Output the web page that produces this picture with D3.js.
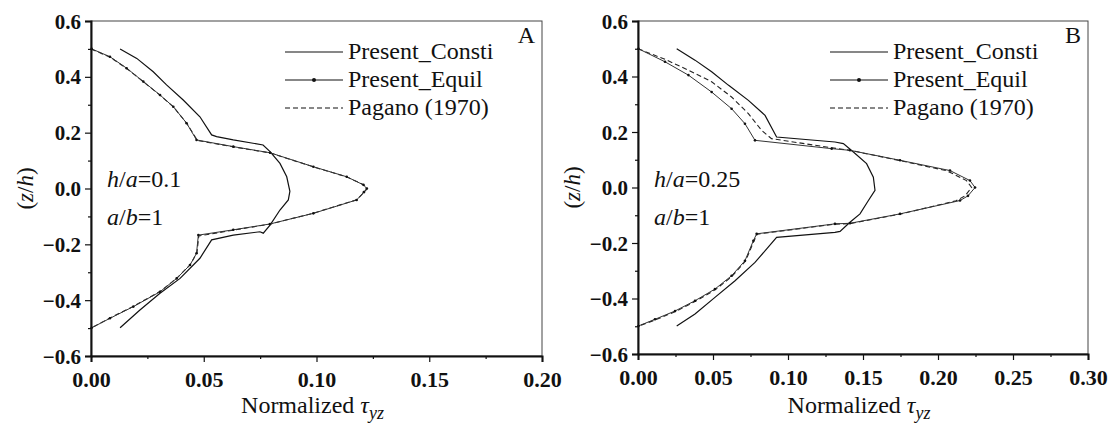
<!DOCTYPE html>
<html lang="en">
<head>
  <meta charset="UTF-8">
  <title>Normalized tau_yz through thickness</title>
  <script src="https://d3js.org/d3.v7.min.js"></script>
  <style>
    body { margin: 0; background: white; }
    svg { display: block; }
  </style>
</head>
<body>
  <div id="viz"></div>

  <script>
    // Panel A (h/a = 0.1), points are [tau_yz, z/h]
    const aConsti = [
      [0.0129, 0.500], [0.0203, 0.466], [0.0276, 0.418], [0.0335, 0.371], [0.0409, 0.317],
      [0.0483, 0.257], [0.0535, 0.192], [0.0557, 0.186], [0.0631, 0.174], [0.0763, 0.156],
      [0.0794, 0.132], [0.0838, 0.090], [0.0868, 0.042], [0.0882, -0.010], [0.0875, -0.041],
      [0.0838, -0.077], [0.0794, -0.131], [0.0764, -0.160], [0.0749, -0.155], [0.0631, -0.167],
      [0.0535, -0.184], [0.0483, -0.250], [0.0395, -0.322], [0.0306, -0.375], [0.0217, -0.435],
      [0.0129, -0.499]
    ];
    const aEquil = [
      [0.0003, 0.500], [0.0084, 0.472], [0.0158, 0.431], [0.0232, 0.383], [0.0306, 0.335],
      [0.0365, 0.293], [0.0424, 0.234], [0.0468, 0.174], [0.0631, 0.150], [0.0794, 0.128],
      [0.0986, 0.078], [0.1134, 0.042], [0.1208, 0.013], [0.1223, 0.000], [0.1210, -0.013],
      [0.1178, -0.041], [0.0986, -0.089], [0.0794, -0.127], [0.0631, -0.148], [0.0476, -0.167],
      [0.0468, -0.232], [0.0439, -0.274], [0.0380, -0.322], [0.0306, -0.370], [0.0188, -0.423],
      [0.0084, -0.465], [0.0003, -0.499]
    ];
    const aPagano = [
      [0.0000, 0.500], [0.0085, 0.470], [0.0160, 0.429], [0.0234, 0.381], [0.0308, 0.333],
      [0.0367, 0.291], [0.0426, 0.232], [0.0472, 0.172], [0.0633, 0.149], [0.0796, 0.127],
      [0.0988, 0.077], [0.1136, 0.041], [0.1212, 0.012], [0.1226, 0.000], [0.1212, -0.012],
      [0.1180, -0.040], [0.0988, -0.088], [0.0796, -0.127], [0.0633, -0.149], [0.0478, -0.170],
      [0.0470, -0.230], [0.0441, -0.272], [0.0382, -0.320], [0.0308, -0.368], [0.0190, -0.421],
      [0.0086, -0.463], [0.0000, -0.500]
    ];

    // Panel B (h/a = 0.25)
    const bConsti = [
      [0.0258, 0.500], [0.0380, 0.459], [0.0491, 0.417], [0.0602, 0.369], [0.0736, 0.314],
      [0.0847, 0.260], [0.0924, 0.182], [0.1313, 0.164], [0.1369, 0.158], [0.1436, 0.128],
      [0.1524, 0.086], [0.1569, 0.037], [0.1580, -0.010], [0.1536, -0.047], [0.1480, -0.095],
      [0.1413, -0.125], [0.1347, -0.158], [0.1313, -0.162], [0.0924, -0.180], [0.0780, -0.270],
      [0.0647, -0.336], [0.0513, -0.396], [0.0380, -0.456], [0.0258, -0.499]
    ];
    const bEquil = [
      [0.0003, 0.500], [0.0180, 0.453], [0.0336, 0.405], [0.0491, 0.344], [0.0624, 0.284],
      [0.0713, 0.230], [0.0780, 0.170], [0.1291, 0.140], [0.1413, 0.134], [0.1747, 0.098],
      [0.2080, 0.061], [0.2213, 0.025], [0.2247, 0.000], [0.2200, -0.030], [0.2147, -0.047],
      [0.1747, -0.095], [0.1413, -0.129], [0.1313, -0.131], [0.0791, -0.167], [0.0769, -0.192],
      [0.0713, -0.264], [0.0624, -0.318], [0.0513, -0.366], [0.0380, -0.408], [0.0247, -0.445],
      [0.0113, -0.475], [0.0003, -0.499]
    ];
    const bPagano = [
      [0.0000, 0.500], [0.0180, 0.462], [0.0336, 0.423], [0.0491, 0.381], [0.0624, 0.326],
      [0.0736, 0.266], [0.0824, 0.206], [0.0890, 0.176], [0.1291, 0.143], [0.1413, 0.134],
      [0.1747, 0.097], [0.2060, 0.060], [0.2190, 0.025], [0.2224, 0.000], [0.2180, -0.030],
      [0.2120, -0.048], [0.1747, -0.096], [0.1413, -0.130], [0.1313, -0.132], [0.0795, -0.168],
      [0.0772, -0.194], [0.0716, -0.266], [0.0627, -0.320], [0.0516, -0.368], [0.0383, -0.410],
      [0.0250, -0.447], [0.0116, -0.477], [0.0000, -0.500]
    ];

    const legendNames = ["Present_Consti", "Present_Equil", "Pagano (1970)"];
    const yTicks = [-0.6, -0.4, -0.2, 0.0, 0.2, 0.4, 0.6];
    const yMinor = [-0.5, -0.3, -0.1, 0.1, 0.3, 0.5];
    const xTicksA = [0.00, 0.05, 0.10, 0.15, 0.20];
    const xMinorA = [0.025, 0.075, 0.125, 0.175];
    const xTicksB = [0.00, 0.05, 0.10, 0.15, 0.20, 0.25, 0.30];
    const xMinorB = [0.025, 0.075, 0.125, 0.175, 0.225, 0.275];

    const FONT = "'Liberation Serif'";

    const svg = d3.select("#viz").append("svg")
      .attr("width", 1115)
      .attr("height", 430);

    function drawPanel(opt) {
      const { left, right, top, bottom } = opt;
      const x = d3.scaleLinear().domain(opt.xDomain).range([left, right]);
      const y = d3.scaleLinear().domain([-0.6, 0.6]).range([bottom, top]);
      const g = svg.append("g");

      const line = d3.line().x(d => x(d[0])).y(d => y(d[1]));

      // frame
      g.append("rect")
        .attr("x", left).attr("y", top)
        .attr("width", right - left).attr("height", bottom - top)
        .attr("fill", "none").attr("stroke", "#444").attr("stroke-width", 1);

      // series
      g.append("path").datum(opt.consti)
        .attr("fill", "none").attr("stroke", "#111").attr("stroke-width", 1.2)
        .attr("d", line);
      g.append("path").datum(opt.pagano)
        .attr("fill", "none").attr("stroke", "#222").attr("stroke-width", 1.1)
        .attr("stroke-dasharray", "5,3")
        .attr("d", line);
      g.append("path").datum(opt.equil)
        .attr("fill", "none").attr("stroke", "#333").attr("stroke-width", 1)
        .attr("d", line);
      g.selectAll("circle.eq").data(opt.equil).enter().append("circle")
        .attr("class", "eq")
        .attr("cx", d => x(d[0])).attr("cy", d => y(d[1]))
        .attr("r", 1.3).attr("fill", "#111");

      // axes
      const xAxis = g.append("g")
        .attr("transform", `translate(0,${bottom})`)
        .call(d3.axisBottom(x).tickValues(opt.xTicks).tickSize(6).tickFormat(d3.format(".2f")));
      g.append("g")
        .attr("transform", `translate(0,${bottom})`)
        .call(d3.axisBottom(x).tickValues(opt.xMinor).tickSize(3).tickFormat(""))
        .call(a => a.select(".domain").remove());
      const yAxis = g.append("g")
        .attr("transform", `translate(${left},0)`)
        .call(d3.axisLeft(y).tickValues(yTicks).tickSize(6).tickFormat(d3.format(".1f")));
      g.append("g")
        .attr("transform", `translate(${left},0)`)
        .call(d3.axisLeft(y).tickValues(yMinor).tickSize(3).tickFormat(""))
        .call(a => a.select(".domain").remove());

      g.selectAll(".domain").attr("stroke", "#111").attr("stroke-width", 2);
      g.selectAll(".tick line").attr("stroke", "#111").attr("stroke-width", 1.2);

      xAxis.attr("font-family", null);
      yAxis.attr("font-family", null);
      xAxis.selectAll("text")
        .attr("font-weight", "bold").attr("font-size", "22px")
        .attr("fill", "#111")
        .attr("dy", "0").attr("y", 31);
      yAxis.selectAll("text")
        .attr("font-weight", "bold").attr("font-size", "21px")
        .attr("fill", "#111")
        .attr("x", -10).attr("dy", "0.34em");

      // axis titles
      const xt = g.append("text")
        .attr("x", (left + right) / 2 - 4).attr("y", 413)
        .attr("text-anchor", "middle").attr("font-size", "24px").attr("fill", "#111");
      xt.append("tspan").text("Normalized ");
      xt.append("tspan").attr("font-style", "italic").text("τ");
      xt.append("tspan").attr("font-style", "italic").attr("font-size", "18px").attr("dy", 6).text("yz");

      const yt = g.append("text")
        .attr("transform", `translate(${left - 58},${(top + bottom) / 2}) rotate(-90)`)
        .attr("text-anchor", "middle").attr("font-size", "23px").attr("fill", "#111");
      yt.append("tspan").text("(");
      yt.append("tspan").attr("font-style", "italic").text("z");
      yt.append("tspan").text("/");
      yt.append("tspan").attr("font-style", "italic").text("h");
      yt.append("tspan").text(")");

      // panel letter
      g.append("text")
        .attr("x", right - 7).attr("y", 43)
        .attr("text-anchor", "end").attr("font-size", "24px").attr("fill", "#111")
        .text(opt.letter);

      // annotations
      const t1 = g.append("text").attr("x", left + 16).attr("y", 187)
        .attr("font-size", "24px").attr("fill", "#111");
      t1.append("tspan").attr("font-style", "italic").text("h");
      t1.append("tspan").text("/");
      t1.append("tspan").attr("font-style", "italic").text("a");
      t1.append("tspan").text("=" + opt.ratio);
      const t2 = g.append("text").attr("x", left + 16).attr("y", 225)
        .attr("font-size", "24px").attr("fill", "#111");
      t2.append("tspan").attr("font-style", "italic").text("a");
      t2.append("tspan").text("/");
      t2.append("tspan").attr("font-style", "italic").text("b");
      t2.append("tspan").text("=1");

      // legend
      const lx = opt.legendX;
      const rows = [52, 80, 108];
      legendNames.forEach((name, i) => {
        const ly = rows[i];
        const l = g.append("line")
          .attr("x1", lx).attr("x2", lx + 58).attr("y1", ly).attr("y2", ly)
          .attr("stroke", "#111").attr("stroke-width", 1.1);
        if (i === 2) l.attr("stroke-dasharray", "5,3");
        if (i === 1) g.append("circle").attr("cx", lx + 29).attr("cy", ly).attr("r", 2).attr("fill", "#111");
        g.append("text")
          .attr("x", lx + 63).attr("y", ly + 7)
          .attr("font-size", "24px").attr("fill", "#111")
          .text(name);
      });
    }

    drawPanel({
      left: 91, right: 542, top: 21, bottom: 356,
      xDomain: [0, 0.2], xTicks: xTicksA, xMinor: xMinorA,
      consti: aConsti, equil: aEquil, pagano: aPagano,
      letter: "A", ratio: "0.1", legendX: 285
    });
    drawPanel({
      left: 638, right: 1088, top: 21, bottom: 354,
      xDomain: [0, 0.3], xTicks: xTicksB, xMinor: xMinorB,
      consti: bConsti, equil: bEquil, pagano: bPagano,
      letter: "B", ratio: "0.25", legendX: 830
    });

    // Times-like face on every text and tspan
    svg.selectAll("text, tspan").style("font-family", FONT);
  </script>
</body>
</html>
